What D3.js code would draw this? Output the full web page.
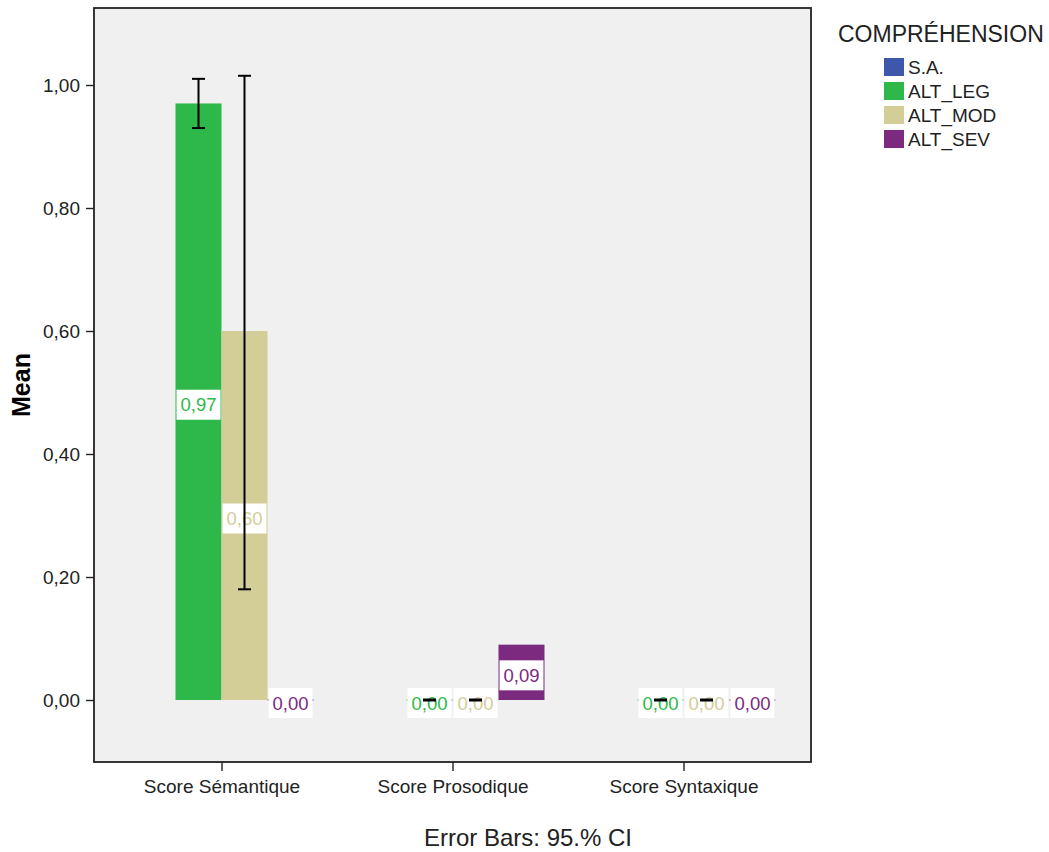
<!DOCTYPE html>
<html>
<head>
<meta charset="utf-8">
<script src="https://cdn.jsdelivr.net/npm/d3@7"></script>
<style>
  body { margin: 0; background: #fff; }
  svg { font-family: "Liberation Sans", Arial, sans-serif; }
</style>
</head>
<body>
<svg id="chart" width="1049" height="852"></svg>
<script>
// ---- data ----
const categories = ["Score Sémantique", "Score Prosodique", "Score Syntaxique"];
const seriesNames = ["S.A.", "ALT_LEG", "ALT_MOD", "ALT_SEV"];
const seriesColors = ["#3d57ab", "#2fb84a", "#d3cd98", "#7c2a80"];
const meanSA  = [null, null, null];
const meanLEG = [0.97, 0.00, 0.00];
const meanMOD = [0.60, 0.00, 0.00];
const meanSEV = [0.00, 0.09, 0.00];
const ciLowSA = [null, null, null],  ciHighSA = [null, null, null];
const ciLowLEG = [0.93, 0.00, 0.00], ciHighLEG = [1.01, 0.00, 0.00];
const ciLowMOD = [0.18, 0.00, 0.00], ciHighMOD = [1.015, 0.00, 0.00];
const ciLowSEV = [null, null, null], ciHighSEV = [null, null, null];
const yTicks = [0, 0.2, 0.4, 0.6, 0.8, 1.0];
const yTitle = "Mean";
const legendTitle = "COMPRÉHENSION";
const footnote = "Error Bars: 95.% CI";

const means = [meanSA, meanLEG, meanMOD, meanSEV];
const lows = [ciLowSA, ciLowLEG, ciLowMOD, ciLowSEV];
const highs = [ciHighSA, ciHighLEG, ciHighMOD, ciHighSEV];

// ---- layout ----
const svg = d3.select("#chart");
const pL = 94, pR = 811, pT = 8, pB = 762;

const y = d3.scaleLinear().domain([-0.1008, 1.1252]).range([pB, pT]);
const x = d3.scalePoint().domain(categories).range([pL, pR]).padding(0.552);
const xs = d3.scaleBand().domain(seriesNames).range([-92, 92]).padding(0);

const fmt = v => d3.format(".2f")(v).replace(".", ",");

// plot background
svg.append("rect").attr("x", pL).attr("y", pT)
  .attr("width", pR - pL).attr("height", pB - pT)
  .attr("fill", "#f0f0f0");

const records = [];
categories.forEach((c, ci) => {
  seriesNames.forEach((s, si) => {
    const v = means[si][ci];
    if (v === null) return;
    records.push({ c, s, si, v, lo: lows[si][ci], hi: highs[si][ci] });
  });
});

const bx = d => x(d.c) + xs(d.s);
const bw = xs.bandwidth();

// bars
const g = svg.append("g");
g.selectAll("rect.bar").data(records).enter().append("rect")
  .attr("class", "bar")
  .attr("x", d => bx(d))
  .attr("y", d => d.v > 0 ? y(d.v) : y(0) - 0.5)
  .attr("width", bw)
  .attr("height", d => d.v > 0 ? y(0) - y(d.v) : 1)
  .attr("fill", d => seriesColors[d.si]);

// value labels
const lab = g.selectAll("g.lab").data(records).enter().append("g")
  .attr("class", "lab")
  .attr("transform", d => `translate(${bx(d) + bw / 2},${y(d.v / 2) + 3})`);
lab.append("rect")
  .attr("x", -22).attr("y", -15).attr("width", 44).attr("height", 30)
  .attr("fill", "#fff");
lab.append("text")
  .attr("text-anchor", "middle").attr("dy", "0.36em")
  .attr("font-size", 18.5)
  .attr("fill", d => seriesColors[d.si])
  .text(d => fmt(d.v));

// error bars
const eb = g.selectAll("g.eb").data(records.filter(d => d.lo !== null)).enter().append("g")
  .attr("class", "eb")
  .attr("stroke", "#000");
eb.append("line")
  .attr("x1", d => bx(d) + bw / 2).attr("x2", d => bx(d) + bw / 2)
  .attr("y1", d => y(d.lo)).attr("y2", d => y(d.hi))
  .attr("stroke-width", 2);
eb.append("line")
  .attr("x1", d => bx(d) + bw / 2 - 6.5).attr("x2", d => bx(d) + bw / 2 + 6.5)
  .attr("y1", d => y(d.lo)).attr("y2", d => y(d.lo))
  .attr("stroke-width", d => d.lo === d.hi ? 3 : 2);
eb.append("line")
  .attr("x1", d => bx(d) + bw / 2 - 6.5).attr("x2", d => bx(d) + bw / 2 + 6.5)
  .attr("y1", d => y(d.hi)).attr("y2", d => y(d.hi))
  .attr("stroke-width", 2);

// frame
svg.append("rect").attr("x", pL).attr("y", pT)
  .attr("width", pR - pL).attr("height", pB - pT)
  .attr("fill", "none").attr("stroke", "#222").attr("stroke-width", 1.8);

// y axis
const yAxis = svg.append("g").attr("transform", `translate(${pL},0)`)
  .call(d3.axisLeft(y).tickValues(yTicks).tickFormat(fmt).tickSize(8).tickPadding(6));
yAxis.select(".domain").remove();
yAxis.selectAll("line").attr("stroke", "#222").attr("stroke-width", 1.4);
yAxis.selectAll("text").attr("font-size", 19).attr("fill", "#222")
  .attr("font-family", "Liberation Sans, Arial, sans-serif");

// x axis
const xAxis = svg.append("g").attr("transform", `translate(0,${pB})`)
  .call(d3.axisBottom(x).tickSize(9).tickPadding(9));
xAxis.select(".domain").remove();
xAxis.selectAll("line").attr("stroke", "#222").attr("stroke-width", 1.4);
xAxis.selectAll("text").attr("font-size", 19).attr("fill", "#222")
  .attr("font-family", "Liberation Sans, Arial, sans-serif");

// y title
svg.append("text")
  .attr("transform", `translate(30,${(pT + pB) / 2}) rotate(-90)`)
  .attr("text-anchor", "middle")
  .attr("font-size", 25).attr("font-weight", "bold").attr("fill", "#000")
  .text(yTitle);

// footnote
svg.append("text").attr("x", 528).attr("y", 846)
  .attr("text-anchor", "middle").attr("font-size", 24).attr("fill", "#222")
  .text(footnote);

// legend
svg.append("text").attr("x", 838).attr("y", 42)
  .attr("font-size", 23).attr("fill", "#222").text(legendTitle);
const leg = svg.append("g").selectAll("g").data(seriesNames).enter().append("g")
  .attr("transform", (d, i) => `translate(884,${58 + i * 24})`);
leg.append("rect").attr("width", 20).attr("height", 18)
  .attr("fill", (d, i) => seriesColors[i]);
leg.append("text").attr("x", 24).attr("y", 16)
  .attr("font-size", 19).attr("fill", "#222").text(d => d);
</script>
</body>
</html>
